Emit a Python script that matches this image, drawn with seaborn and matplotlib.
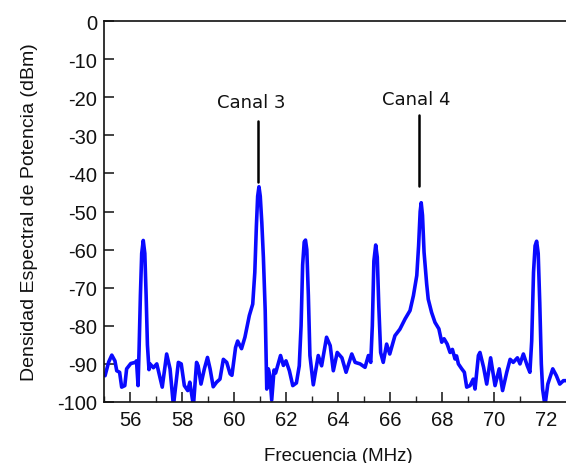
import numpy as np
import pandas as pd
import matplotlib
matplotlib.use("Agg")
import matplotlib.pyplot as plt
from matplotlib.ticker import MultipleLocator
import seaborn as sns

# Measured power spectral density (MHz, dBm)
freq_mhz = [
    55.04, 55.18, 55.30, 55.42, 55.49, 55.60, 55.68, 55.80, 55.87, 56.03,
    56.20, 56.25, 56.31, 56.35, 56.40, 56.45, 56.51, 56.57, 56.62, 56.67,
    56.73, 56.77, 56.90, 57.03, 57.15, 57.24, 57.41, 57.54, 57.67, 57.86,
    57.97, 58.09, 58.22, 58.30, 58.44, 58.56, 58.62, 58.73, 58.86, 58.98,
    59.08, 59.20, 59.33, 59.46, 59.59, 59.72, 59.85, 59.92, 60.06, 60.14,
    60.29, 60.42, 60.59, 60.72, 60.80, 60.86, 60.91, 60.96, 61.01, 61.07,
    61.13, 61.20, 61.26, 61.32, 61.38, 61.45, 61.54, 61.60, 61.79, 61.90,
    62.00, 62.13, 62.26, 62.40, 62.51, 62.58, 62.64, 62.70, 62.75, 62.80,
    62.86, 62.92, 63.05, 63.24, 63.37, 63.56, 63.70, 63.82, 63.97, 64.15,
    64.31, 64.53, 64.66, 64.85, 65.04, 65.17, 65.26, 65.32, 65.38, 65.45,
    65.51, 65.57, 65.64, 65.74, 65.87, 65.99, 66.19, 66.38, 66.58, 66.77,
    66.90, 67.03, 67.10, 67.16, 67.20, 67.25, 67.31, 67.41, 67.47, 67.60,
    67.73, 67.88, 67.99, 68.08, 68.20, 68.31, 68.40, 68.50, 68.56, 68.63,
    68.76, 68.86, 68.95, 69.08, 69.20, 69.27, 69.40, 69.46, 69.60, 69.72,
    69.87, 70.04, 70.20, 70.33, 70.49, 70.62, 70.74, 70.90, 71.00, 71.13,
    71.28, 71.38, 71.45, 71.52, 71.58, 71.64, 71.70, 71.76, 71.82, 71.87,
    71.96, 72.07, 72.26, 72.40, 72.53, 72.67, 72.85,
]
psd_dbm = [
    -93.1, -89.5, -87.7, -89.2, -91.8, -92.2, -96.1, -95.7, -91.3, -89.9,
    -89.6, -89.2, -95.7, -86.0, -72.0, -61.0, -57.6, -61.0, -72.0, -85.0,
    -91.5, -90.0, -91.0, -90.0, -93.5, -96.1, -87.4, -91.3, -101.0, -89.6,
    -90.0, -95.7, -97.0, -94.8, -101.0, -89.6, -90.5, -95.3, -91.3, -88.3,
    -91.3, -96.0, -94.8, -94.0, -88.8, -89.6, -92.6, -93.0, -85.7, -84.0,
    -86.0, -83.0, -77.3, -74.3, -66.0, -54.0, -46.0, -43.5, -46.0, -53.0,
    -62.0, -76.0, -96.6, -91.3, -93.0, -99.5, -91.6, -92.4, -87.8, -90.4,
    -89.2, -91.8, -95.7, -95.0, -90.5, -80.0, -64.0, -58.0, -57.5, -60.0,
    -72.0, -87.8, -95.5, -87.8, -90.5, -83.0, -85.2, -91.8, -87.0, -88.4,
    -92.2, -87.4, -89.6, -90.0, -90.9, -87.8, -89.6, -80.0, -63.0, -58.8,
    -62.0, -75.0, -87.0, -89.6, -84.8, -87.4, -82.6, -80.9, -78.2, -76.0,
    -72.1, -66.8, -59.0, -50.0, -47.7, -51.0, -60.7, -69.0, -73.0, -76.5,
    -79.1, -80.8, -84.3, -83.4, -84.8, -87.0, -86.2, -88.7, -87.9, -90.0,
    -91.3, -92.2, -96.1, -95.7, -94.0, -96.6, -87.8, -87.0, -90.9, -95.3,
    -88.4, -95.7, -91.3, -97.0, -92.2, -88.8, -89.6, -88.4, -90.0, -87.4,
    -90.5, -92.2, -84.0, -66.0, -59.0, -57.8, -61.0, -74.0, -90.0, -96.6,
    -101.0, -95.3, -91.3, -93.1, -95.3, -94.4, -94.4,
]

# Channel annotations: label, label position, marker segment
channel_labels = ["Canal 3", "Canal 4"]
label_x = [60.65, 67.0]
label_y = [-21.3, -20.6]
marker_x = [60.92, 67.13]
marker_top = [-26.2, -24.7]
marker_bottom = [-42.3, -43.3]

x_ticks = [56, 58, 60, 62, 64, 66, 68, 70, 72]
y_ticks = [0, -10, -20, -30, -40, -50, -60, -70, -80, -90, -100]

sns.set_style("ticks")
plt.rcParams["font.family"] = ["Liberation Sans", "DejaVu Sans"]
plt.rcParams["axes.unicode_minus"] = False

df = pd.DataFrame({"Frecuencia": freq_mhz, "PSD": psd_dbm})

fig = plt.figure(figsize=(5.66, 4.64), dpi=100)
ax = fig.add_axes([104 / 566, 61 / 464, 468 / 566, 381 / 464])

sns.lineplot(data=df, x="Frecuencia", y="PSD", ax=ax, color="#0a0aff",
             linewidth=2.6, sort=False, estimator=None)

for lab, lx, ly, mx, mt, mb in zip(channel_labels, label_x, label_y,
                                   marker_x, marker_top, marker_bottom):
    ax.plot([mx, mx], [mt, mb], color="black", linewidth=1.8)
    ax.text(lx, ly, lab, ha="center", va="center", fontsize=13,
            family=["DejaVu Sans"], color="#111111")

ax.set_xlim(55, 73)
ax.set_ylim(-100, 0)
ax.set_xticks(x_ticks)
ax.set_yticks(y_ticks)
ax.xaxis.set_minor_locator(MultipleLocator(1))

ax.tick_params(axis="both", which="major", direction="in", length=7,
               width=1.1, labelsize=14.5, colors="#111111", pad=5)
ax.tick_params(axis="x", which="minor", direction="in", length=4, width=1.0)
ax.tick_params(axis="x", which="major", pad=6)
ax.tick_params(top=False, right=False, which="both")

for side in ["left", "bottom", "top", "right"]:
    ax.spines[side].set_visible(True)
    ax.spines[side].set_linewidth(1.2)
    ax.spines[side].set_color("#111111")

ax.set_xlabel("Frecuencia (MHz)", fontsize=13.5, labelpad=13, color="#111111")
ax.set_ylabel("Densidad Espectral de Potencia (dBm)", fontsize=14,
              labelpad=14, color="#111111")

fig.savefig("out.png", dpi=100)
